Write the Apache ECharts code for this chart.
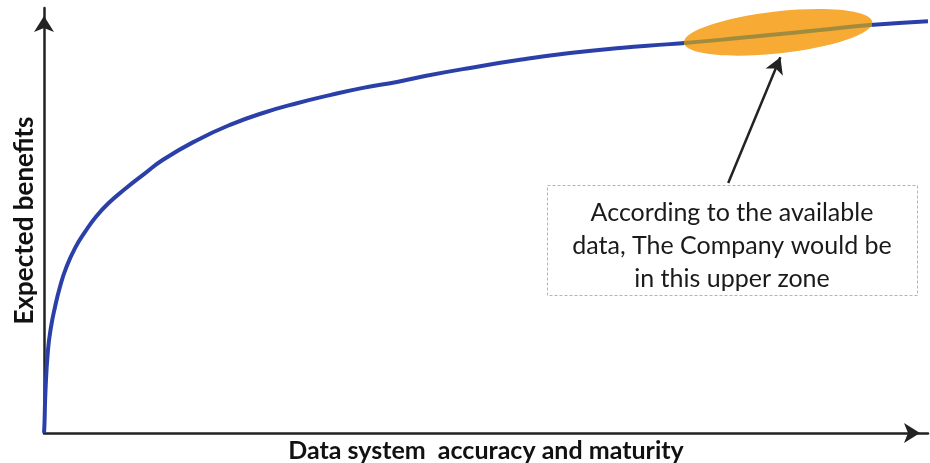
<!DOCTYPE html>
<html>
<head>
<meta charset="utf-8">
<script src="https://cdn.jsdelivr.net/npm/echarts@6/dist/echarts.min.js"></script>
<style>
  html, body { margin: 0; padding: 0; background: #fff; }
  #chart { width: 930px; height: 463px; }
</style>
</head>
<body>
<div id="chart"></div>
<script>
// Benefit curve: maturity (x) against expected benefits (y), both on a 0-100 scale
const curveX = [0, 0.05, 0.17, 0.45, 0.79, 1.24, 1.81, 2.49, 3.51, 4.64, 5.88, 7.47, 9.16, 11.31, 13.46, 17.31, 21.04, 24.77, 28.62, 32.35, 36.09, 39.93, 43.10, 48.19, 53.85, 59.50, 65.16, 70.81, 76.47, 81.79, 87.78, 93.44, 100];
const curveY = [0, 1.9, 10.1, 19.5, 24.9, 29.6, 34.4, 38.8, 43.5, 47.3, 50.9, 54.4, 57.4, 60.9, 64.3, 68.9, 72.5, 75.3, 77.6, 79.5, 81.2, 82.6, 84.0, 85.9, 87.8, 89.4, 90.6, 91.5, 92.5, 93.6, 94.8, 96.0, 96.9];

// Upper zone where the company sits (left and right ends of the highlighted band)
const zoneX = [72.4, 93.7];
const zoneY = [91.8, 96.7];

// Callout arrow: from the note box up to the zone
const arrowFrom = [77.4, 58.8];
const arrowTo = [83.3, 88.4];

const xTitle = 'Data system  accuracy and maturity';
const yTitle = 'Expected benefits';
const noteLines = ['According to the available', 'data, The Company would be', 'in this upper zone'];

const curveData = curveX.map((x, i) => [x, curveY[i]]);

const chart = echarts.init(document.getElementById('chart'), null, { renderer: 'canvas' });

const axisCommon = {
  type: 'value',
  min: 0,
  max: 100,
  axisTick: { show: false },
  axisLabel: { show: false },
  splitLine: { show: false },
  axisLine: {
    show: true,
    onZero: false,
    symbol: ['none', 'arrow'],
    symbolSize: [15, 16],
    symbolOffset: [0, -8],
    lineStyle: { color: '#222', width: 2.5 }
  },
  nameLocation: 'middle',
  nameTextStyle: { fontFamily: 'Lato', fontWeight: 'bold', color: '#111' }
};

chart.setOption({
  animation: false,
  backgroundColor: '#fff',
  grid: { left: 44, right: 2, top: 8, bottom: 30, containLabel: false, outerBoundsMode: 'none' },
  xAxis: Object.assign({}, axisCommon, {
    name: xTitle, nameGap: 5,
    nameTextStyle: Object.assign({}, axisCommon.nameTextStyle, { fontSize: 25 })
  }),
  yAxis: Object.assign({}, axisCommon, {
    name: yTitle, nameGap: 6, nameRotate: 90,
    nameTextStyle: Object.assign({}, axisCommon.nameTextStyle, { fontSize: 26 })
  }),
  visualMap: {
    show: false,
    type: 'piecewise',
    seriesIndex: 1,
    dimension: 0,
    pieces: [
      { lt: zoneX[0], color: '#2a40a8' },
      { gte: zoneX[0], lte: zoneX[1], color: '#a08c3c' },
      { gt: zoneX[1], color: '#2a40a8' }
    ]
  },
  series: [
    {
      // highlighted zone drawn as an ellipse along the curve
      type: 'custom',
      z: 1,
      silent: true,
      data: [[zoneX[0], zoneY[0], zoneX[1], zoneY[1]]],
      renderItem: function (params, api) {
        const p1 = api.coord([api.value(0), api.value(1)]);
        const p2 = api.coord([api.value(2), api.value(3)]);
        const dx = p2[0] - p1[0], dy = p2[1] - p1[1];
        const rx = Math.sqrt(dx * dx + dy * dy) / 2;
        return {
          type: 'ellipse',
          x: (p1[0] + p2[0]) / 2,
          y: (p1[1] + p2[1]) / 2,
          rotation: -Math.atan2(dy, dx),
          shape: { cx: 0, cy: 0, rx: rx, ry: 21 },
          style: { fill: '#f7aa34', stroke: null }
        };
      }
    },
    {
      type: 'line',
      z: 3,
      data: curveData,
      smooth: 0.5,
      showSymbol: false,
      silent: true,
      clip: false,
      lineStyle: { width: 4 }
    },
    {
      // arrow pointing from the note to the zone
      type: 'line',
      z: 4,
      data: [],
      markLine: {
        silent: true,
        symbol: ['none', 'arrow'],
        symbolSize: [14, 16],
        label: { show: false },
        lineStyle: { color: '#222', width: 2.5, type: 'solid' },
        data: [[{ coord: arrowFrom }, { coord: arrowTo }]]
      }
    }
  ],
  graphic: [
    {
      type: 'rect',
      left: 547,
      top: 185,
      z: 10,
      shape: { width: 370, height: 110 },
      style: { fill: '#fff', stroke: '#b5b5b5', lineWidth: 1, lineDash: [3, 2] }
    },
    {
      type: 'text',
      z: 11,
      x: 732,
      y: 246,
      style: {
        text: noteLines.join('\n'),
        fontFamily: 'Lato',
        fontSize: 25,
        lineHeight: 33,
        fill: '#1a1a1a',
        align: 'center',
        verticalAlign: 'middle'
      }
    }
  ]
});
</script>
</body>
</html>
